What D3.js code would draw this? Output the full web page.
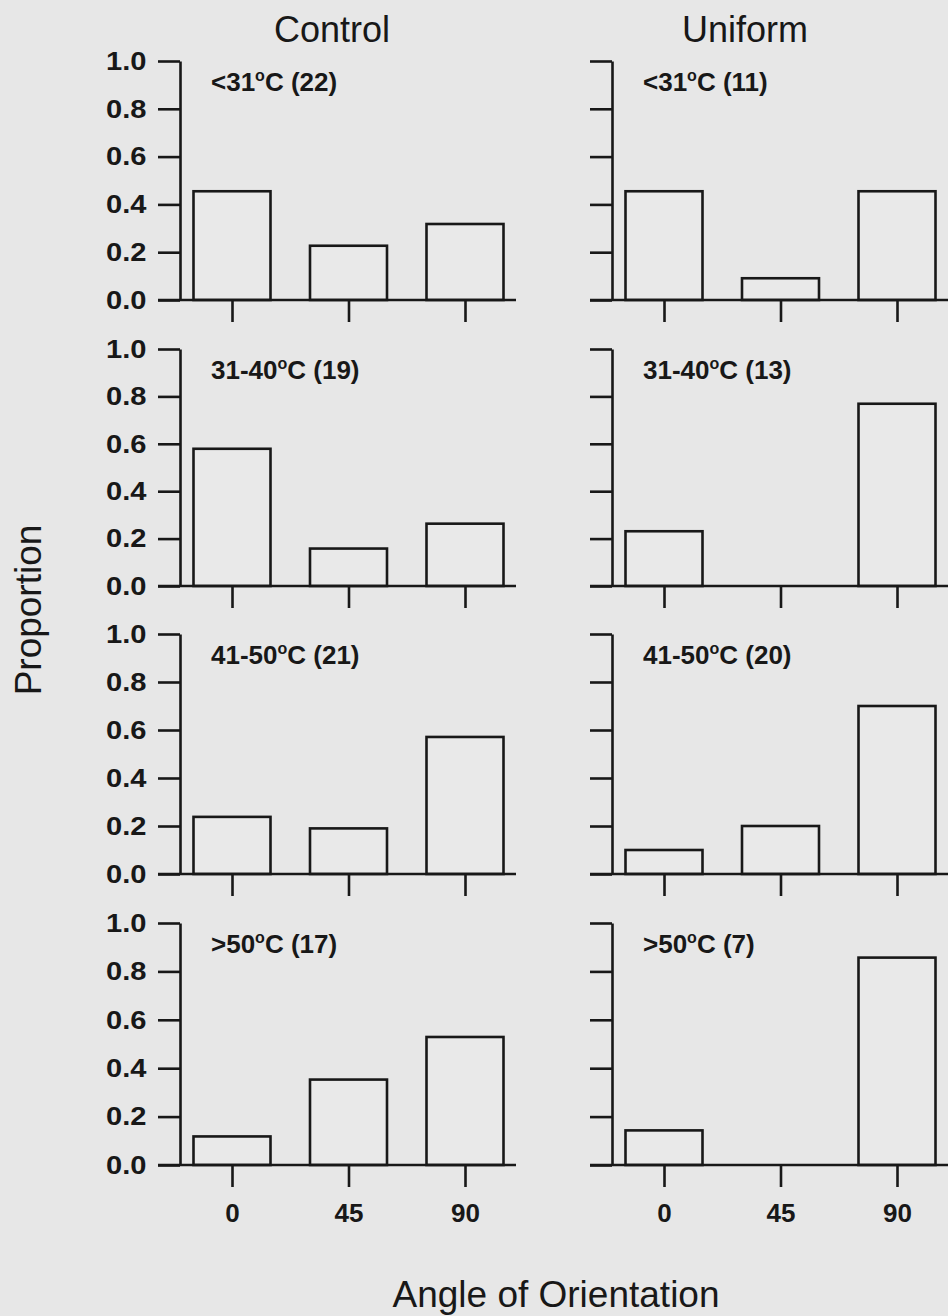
<!DOCTYPE html>
<html>
<head>
<meta charset="utf-8">
<script src="https://cdn.jsdelivr.net/npm/d3@7"></script>
<style>
  html, body { margin: 0; padding: 0; background: #e7e7e7; }
  svg { display: block; }
  text { font-family: "Liberation Sans", Arial, Helvetica, sans-serif; fill: #181818; }
</style>
</head>
<body>
<svg id="chart" width="948" height="1316"></svg>
<script>
// ---- data ----
const angles = ["0", "45", "90"];
const groups = ["Control", "Uniform"];
const tempClasses = ["<31", "31-40", "41-50", ">50"];
const controlN = [22, 19, 21, 17];
const uniformN = [11, 13, 20, 7];
const controlLt31 = [0.455, 0.227, 0.318];
const control31to40 = [0.579, 0.158, 0.263];
const control41to50 = [0.238, 0.190, 0.571];
const controlGt50 = [0.118, 0.353, 0.529];
const uniformLt31 = [0.455, 0.091, 0.455];
const uniform31to40 = [0.231, 0.0, 0.769];
const uniform41to50 = [0.10, 0.20, 0.70];
const uniformGt50 = [0.143, 0.0, 0.857];
const yTicks = [0, 0.2, 0.4, 0.6, 0.8, 1.0];

const controlValues = [controlLt31, control31to40, control41to50, controlGt50];
const uniformValues = [uniformLt31, uniform31to40, uniform41to50, uniformGt50];

// ---- layout ----
const svg = d3.select("#chart");
const ink = "#181818";
const sw = 2.6;
const axisX = [180, 612];
const rowTop = [61, 349, 634, 923];
const rowBottom = [300, 586, 874, 1165];
const tickLen = 22;
const barW = 77;

const x = d3.scalePoint().domain(angles).range([52, 285]);

groups.forEach((g, gi) => {
  const vals = gi === 0 ? controlValues : uniformValues;
  const ns = gi === 0 ? controlN : uniformN;
  tempClasses.forEach((tc, ri) => {
    const y = d3.scaleLinear().domain([0, 1]).range([rowBottom[ri], rowTop[ri]]);
    const panel = svg.append("g").attr("transform", `translate(${axisX[gi]},0)`);

    // bars
    const data = angles.map((a, i) => ({ a, v: vals[ri][i] })).filter(d => d.v > 0);
    panel.selectAll("rect.bar").data(data).join("rect")
      .attr("class", "bar")
      .attr("x", d => x(d.a) - barW / 2)
      .attr("width", barW)
      .attr("y", d => y(d.v))
      .attr("height", d => y(0) - y(d.v))
      .attr("fill", "#e9e9e9")
      .attr("stroke", ink)
      .attr("stroke-width", sw);

    // y axis
    const yAxis = d3.axisLeft(y).tickValues(yTicks).tickSizeInner(tickLen).tickSizeOuter(0)
      .tickPadding(8)
      .tickFormat(gi === 0 ? d3.format(".1f") : () => "");
    const ya = panel.append("g").call(yAxis);
    ya.attr("font-size", null).attr("font-family", null);
    ya.select(".domain").attr("stroke", ink).attr("stroke-width", sw);
    ya.selectAll(".tick line").attr("stroke", ink).attr("stroke-width", sw);
    ya.selectAll(".tick text")
      .style("font-size", "26px").style("font-weight", "bold").attr("fill", ink)
      .attr("transform", "scale(1.12,1)");

    // x axis baseline (extends left under the y ticks)
    panel.append("line")
      .attr("x1", -tickLen).attr("x2", 336)
      .attr("y1", y(0)).attr("y2", y(0))
      .attr("stroke", ink).attr("stroke-width", sw);

    const xAxis = d3.axisBottom(x).tickSizeInner(tickLen).tickSizeOuter(0).tickPadding(17)
      .tickFormat(ri === 3 ? (d => d) : () => "");
    const xa = panel.append("g").attr("transform", `translate(0,${y(0)})`).call(xAxis);
    xa.attr("font-size", null).attr("font-family", null);
    xa.select(".domain").remove();
    xa.selectAll(".tick line").attr("stroke", ink).attr("stroke-width", sw);
    xa.selectAll(".tick text")
      .style("font-size", "26px").style("font-weight", "bold").attr("fill", ink);

    // panel label
    const lbl = panel.append("text")
      .attr("x", 31).attr("y", rowTop[ri] + 30)
      .style("font-size", "26px").style("font-weight", "bold");
    lbl.append("tspan").text(tc);
    lbl.append("tspan").style("font-size", "16px").attr("dy", -10).text("o");
    lbl.append("tspan").attr("dy", 10).text(`C (${ns[ri]})`);
  });
});

// column titles
svg.selectAll("text.title").data(groups).join("text")
  .attr("class", "title")
  .attr("x", (d, i) => [332, 745][i])
  .attr("y", 42)
  .attr("text-anchor", "middle")
  .style("font-size", "36px")
  .text(d => d);

// axis titles
svg.append("text")
  .attr("x", 556).attr("y", 1307)
  .attr("text-anchor", "middle")
  .style("font-size", "37px")
  .text("Angle of Orientation");

svg.append("text")
  .attr("transform", "translate(41,610) rotate(-90)")
  .attr("text-anchor", "middle")
  .style("font-size", "37px")
  .text("Proportion");
</script>
</body>
</html>
